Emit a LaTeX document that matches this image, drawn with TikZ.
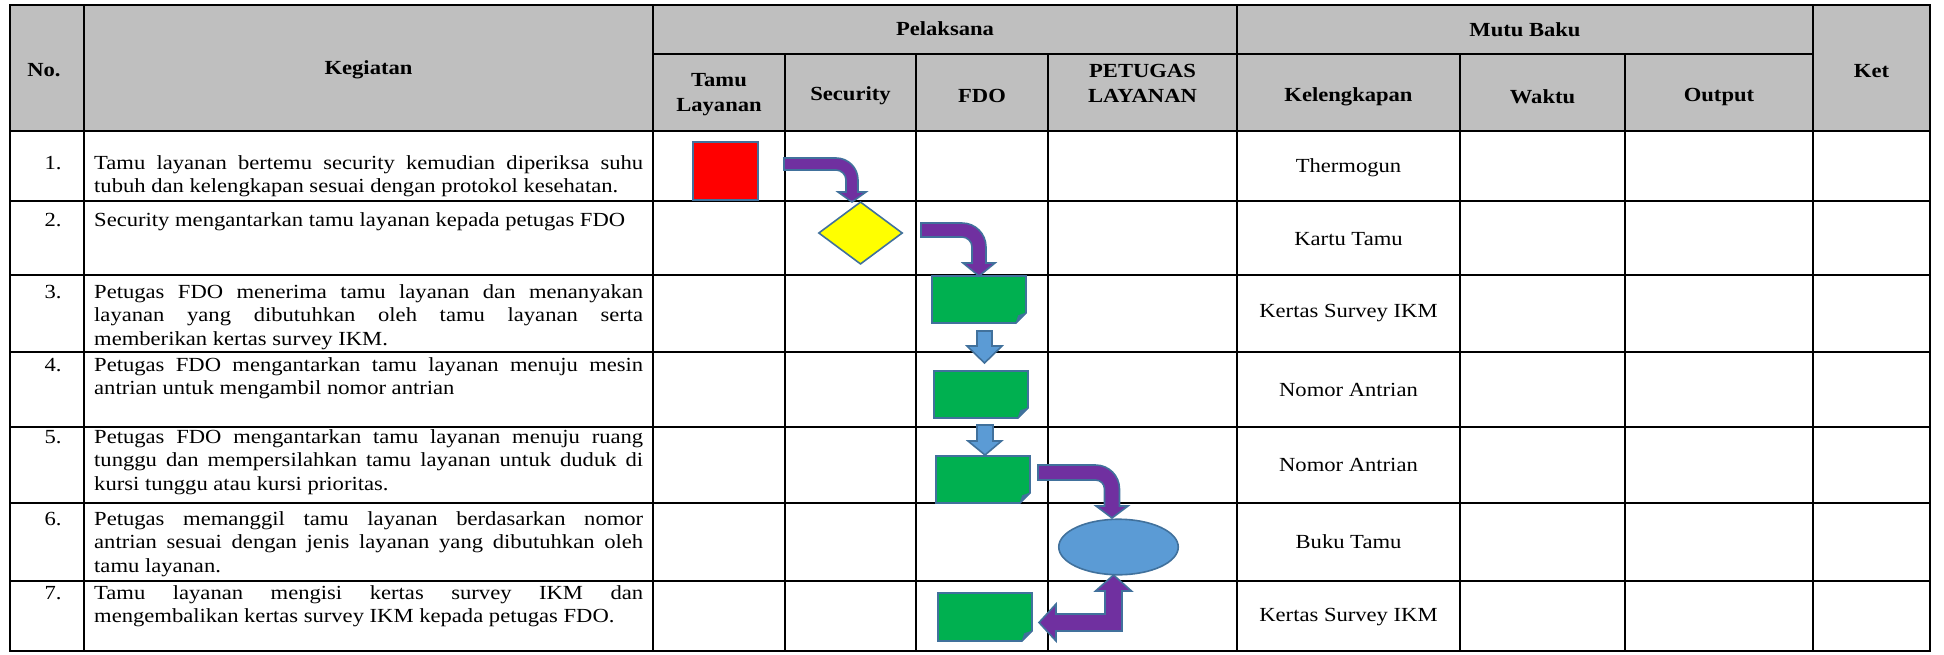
\documentclass[tikz,border=0pt]{standalone}
\usepackage{fontspec}
\setmainfont{Liberation Serif}[FakeStretch=1.13]
\usetikzlibrary{shapes.geometric}
\definecolor{hdr}{HTML}{BFBFBF}
\definecolor{sborder}{HTML}{41719C}
\definecolor{purp}{HTML}{7030A0}
\definecolor{grn}{HTML}{00B050}
\definecolor{lblue}{HTML}{5B9BD5}
\definecolor{rred}{HTML}{FF0000}
\definecolor{yel}{HTML}{FFFF00}
\tikzset{
  gridline/.style={line width=1.8pt, black},
  shp/.style={draw=sborder, line width=1.6pt, line join=miter},
  body/.style={font=\fontsize{20}{23.5}\selectfont, inner sep=0},
  head/.style={font=\fontsize{20}{25}\selectfont\bfseries, align=center, inner sep=0},
  kel/.style={font=\fontsize{20}{23.5}\selectfont, inner sep=0},
}
\newcommand{\foldrect}[5]{%
  \coordinate (#1) at ({(#2+#4)/2},{(#3+#5)/2});
  \filldraw[shp, fill=grn] (#2,#3) -- (#4,#3) -- ({#4},{#5-10}) -- ({#4-10},{#5}) -- (#2,#5) -- cycle;
  \filldraw[draw=sborder, fill=sborder, line width=0.6pt] ({#4},{#5-10}) -- ({#4-10},{#5}) -- ({#4-7.5},{#5-7.5}) -- cycle;
}
\begin{document}
\begin{tikzpicture}[x=1pt,y=-1pt]
\useasboundingbox (0,0) rectangle (1944,654);
% header fill
\fill[hdr] (10,5) rectangle (1930,131);
% grid
\draw[gridline] (10,5) rectangle (1930,651);
\draw[gridline] (653,54) -- (1813,54);
\foreach \yy in {131,200.7,275,352,427,503,581} \draw[gridline] (10,\yy) -- (1930,\yy);
\foreach \xx in {84,653,1237,1813} \draw[gridline] (\xx,5) -- (\xx,651);
\foreach \xx in {785,916,1048,1460,1625} \draw[gridline] (\xx,54) -- (\xx,651);
% headers
\node[head] (hNo) at (44,70) {No.};
\node[head] (hKeg) at (368.5,70) {Kegiatan};
\node[head] (hPel) at (945,29) {Pelaksana};
\node[head] (hTamu) at (719,95) {Tamu\\Layanan};
\node[head] (hSec) at (850.5,96) {Security};
\node[head] (hFDO) at (982,96) {FDO};
\node[head] (hPet) at (1142.5,83) {PETUGAS\\LAYANAN};
\node[head] (hMutu) at (1525,30) {Mutu Baku};
\node[head] (hKel) at (1348.5,97) {Kelengkapan};
\node[head] (hWak) at (1542.5,97) {Waktu};
\node[head] (hOut) at (1719,97) {Output};
\node[head] (hKet) at (1871.5,71) {Ket};
% numbers
\node[body, anchor=base] (n1) at (53,169) {1.};
\node[body, anchor=base] (n2) at (53,226) {2.};
\node[body, anchor=base] (n3) at (53,298) {3.};
\node[body, anchor=base] (n4) at (53,371) {4.};
\node[body, anchor=base] (n5) at (53,443) {5.};
\node[body, anchor=base] (n6) at (53,525) {6.};
\node[body, anchor=base] (n7) at (53,599) {7.};
% kegiatan
\node[body, anchor=base west] (k1) at (94,169) {\parbox[t]{549pt}{Tamu layanan bertemu security kemudian diperiksa suhu\linebreak tubuh dan kelengkapan sesuai dengan protokol kesehatan.}};
\node[body, anchor=base west] (k2) at (94,226) {\parbox[t]{549pt}{Security mengantarkan tamu layanan kepada petugas FDO}};
\node[body, anchor=base west] (k3) at (94,298) {\parbox[t]{549pt}{Petugas FDO menerima tamu layanan dan menanyakan\linebreak layanan yang dibutuhkan oleh tamu layanan serta\linebreak memberikan kertas survey IKM.}};
\node[body, anchor=base west] (k4) at (94,371) {\parbox[t]{549pt}{Petugas FDO mengantarkan tamu layanan menuju mesin\linebreak antrian untuk mengambil nomor antrian}};
\node[body, anchor=base west] (k5) at (94,443) {\parbox[t]{549pt}{Petugas FDO mengantarkan tamu layanan menuju ruang\linebreak tunggu dan mempersilahkan tamu layanan untuk duduk di\linebreak kursi tunggu atau kursi prioritas.}};
\node[body, anchor=base west] (k6) at (94,525) {\parbox[t]{549pt}{Petugas memanggil tamu layanan berdasarkan nomor\linebreak antrian sesuai dengan jenis layanan yang dibutuhkan oleh\linebreak tamu layanan.}};
\node[body, anchor=base west] (k7) at (94,599) {\parbox[t]{549pt}{Tamu layanan mengisi kertas survey IKM dan\linebreak mengembalikan kertas survey IKM kepada petugas FDO.}};
% kelengkapan
\node[kel] (c1) at (1348.5,168) {Thermogun};
\node[kel] (c2) at (1348.5,239) {Kartu Tamu};
\node[kel] (c3) at (1348.5,313.5) {Kertas Survey IKM};
\node[kel] (c4) at (1348.5,389.5) {Nomor Antrian};
\node[kel] (c5) at (1348.5,465) {Nomor Antrian};
\node[kel] (c6) at (1348.5,542) {Buku Tamu};
\node[kel] (c7) at (1348.5,617) {Kertas Survey IKM};
% flow shapes
\node[shp, fill=rred, rectangle, minimum width=65pt, minimum height=58pt, inner sep=0] (start) at (725.5,171) {};
\node[shp, fill=yel, diamond, minimum width=84pt, minimum height=62.5pt, inner sep=0] (dec) at (860.5,233) {};
\foldrect{g1}{932}{276}{1026}{323}
\foldrect{g2}{934}{371}{1028}{418}
\foldrect{g3}{936}{456}{1030}{503}
\foldrect{g4}{938}{593}{1032}{641}
\node[shp, fill=lblue, ellipse, minimum width=119.5pt, minimum height=55.5pt, inner sep=0] (ell) at (1118.5,547) {};
% purple bent arrows
\filldraw[shp, fill=purp] (784,158) -- (836,158) .. controls (848.2,158) and (858,167.8) .. (858,180) -- (858,192) -- (866,192) -- (852,202) -- (838,192) -- (846,192) -- (846,180) .. controls (846,174.5) and (841.5,170) .. (836,170) -- (784,170) -- cycle;
\filldraw[shp, fill=purp] (921,223) -- (962,223) .. controls (975.3,223) and (986,233.7) .. (986,247) -- (986,263) -- (995,263) -- (979,276) -- (963,263) -- (972,263) -- (972,247) .. controls (972,241.5) and (967.5,237) .. (962,237) -- (921,237) -- cycle;
\filldraw[shp, fill=purp] (1038,465) -- (1095.5,465) .. controls (1108.8,465) and (1119.5,475.7) .. (1119.5,489) -- (1119.5,506) -- (1128,506) -- (1112,518) -- (1096,506) -- (1104.5,506) -- (1104.5,489) .. controls (1104.5,484) and (1100.5,480) .. (1095.5,480) -- (1038,480) -- cycle;
\filldraw[shp, fill=purp] (1113.5,575) -- (1131.5,591) -- (1122,591) -- (1122,631) -- (1056,631) -- (1056,641) -- (1039,622.5) -- (1056,604) -- (1056,614) -- (1105,614) -- (1105,591) -- (1095.5,591) -- cycle;
% blue down arrows
\filldraw[shp, fill=lblue] (977,331) -- (992,331) -- (992,346) -- (1002,346) -- (984.5,363) -- (967,346) -- (977,346) -- cycle;
\filldraw[shp, fill=lblue] (977,425) -- (993,425) -- (993,441) -- (1001.5,441) -- (985,455) -- (968,441) -- (977,441) -- cycle;
\end{tikzpicture}
\end{document}
